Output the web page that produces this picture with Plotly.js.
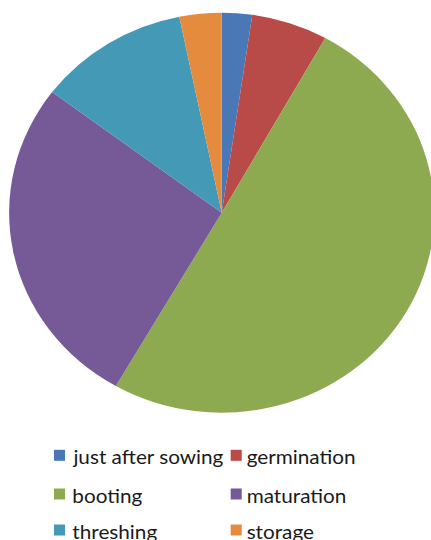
<!DOCTYPE html>
<html>
<head>
<meta charset="utf-8">
<script src="https://cdn.plot.ly/plotly-3.0.1.min.js"></script>
<style>
  html, body { margin: 0; padding: 0; background: #ffffff; overflow: hidden; width: 431px; height: 540px; }
  /* the figure is drawn slightly narrow and widened horizontally */
  #chart { width: 420px; height: 540px; transform: scaleX(1.063); transform-origin: 0 0; }
</style>
</head>
<body>
<div id="chart"></div>
<script>
// Share of each crop stage (%)
const stages = ['just after sowing', 'germination', 'booting', 'maturation', 'threshing', 'storage'];
const shares = [2.3, 5.8, 50.2, 27.0, 11.5, 3.2];
const stageColors = ['#4A78B6', '#B84A48', '#8EAA51', '#755A97', '#4499B6', '#E48B3E'];

const W = 420, H = 540;

// pie placement (pixels in the un-widened frame)
const cx = 208.6, cy = 212.7, R = 200;

const pie = {
  type: 'pie',
  labels: stages,
  values: shares,
  marker: { colors: stageColors, line: { width: 0 } },
  sort: false,
  direction: 'clockwise',
  rotation: 0,
  textinfo: 'none',
  hoverinfo: 'label+percent',
  showlegend: false,
  domain: {
    x: [(cx - R) / W, (cx + R) / W],
    y: [1 - (cy + R) / H, 1 - (cy - R) / H]
  }
};

// legend: two columns, three rows
const colSwatchX = [50.8, 217.0];
const colTextX = [66.0, 230.2];
const rowY = [455.3, 494.0, 530.0];
const sw = 10.4, sh = 11;

const shapes = [];
const annotations = [];
stages.forEach((name, i) => {
  const col = i % 2, row = Math.floor(i / 2);
  const x0 = colSwatchX[col], yc = rowY[row];
  shapes.push({
    type: 'rect', xref: 'paper', yref: 'paper',
    x0: x0 / W, x1: (x0 + sw) / W,
    y0: 1 - (yc + sh / 2) / H, y1: 1 - (yc - sh / 2) / H,
    fillcolor: stageColors[i], line: { width: 0 }
  });
  annotations.push({
    xref: 'paper', yref: 'paper',
    x: colTextX[col] / W, y: 1 - (yc + 1) / H,
    xanchor: 'left', yanchor: 'middle',
    text: name, showarrow: false,
    font: { family: 'Lato, "Open Sans", sans-serif', size: 19.5, color: '#1a1a1a' }
  });
});

const layout = {
  width: W, height: H,
  margin: { l: 0, r: 0, t: 0, b: 0 },
  paper_bgcolor: '#ffffff',
  showlegend: false,
  shapes: shapes,
  annotations: annotations
};

Plotly.newPlot('chart', [pie], layout, { displayModeBar: false, staticPlot: true });
</script>
</body>
</html>
